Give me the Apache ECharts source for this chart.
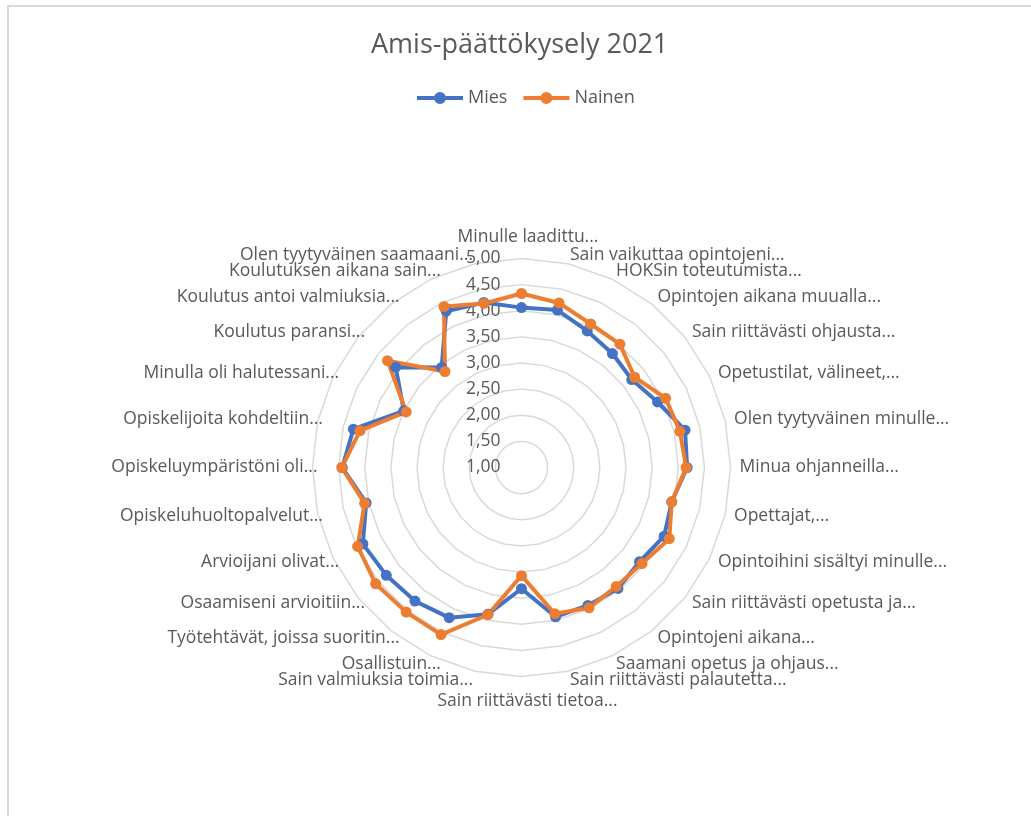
<!DOCTYPE html>
<html><head><meta charset="utf-8">
<script src="https://cdn.jsdelivr.net/npm/echarts@6/dist/echarts.min.js"></script>
<style>html,body{margin:0;padding:0;background:#fff}#c{width:1031px;height:816px}</style>
</head><body><div id="c"></div>
<script>
const titleText = 'Amis-päättökysely 2021';
const seriesNames = ['Mies', 'Nainen'];
const categories = [
  'Minulle laadittu...',
  'Sain vaikuttaa opintojeni...',
  'HOKSin toteutumista...',
  'Opintojen aikana muualla...',
  'Sain riittävästi ohjausta...',
  'Opetustilat, välineet,...',
  'Olen tyytyväinen minulle...',
  'Minua ohjanneilla...',
  'Opettajat,...',
  'Opintoihini sisältyi minulle...',
  'Sain riittävästi opetusta ja...',
  'Opintojeni aikana...',
  'Saamani opetus ja ohjaus...',
  'Sain riittävästi palautetta...',
  'Sain riittävästi tietoa...',
  'Sain valmiuksia toimia...',
  'Osallistuin...',
  'Työtehtävät, joissa suoritin...',
  'Osaamiseni arvioitiin...',
  'Arvioijani olivat...',
  'Opiskeluhuoltopalvelut...',
  'Opiskeluympäristöni oli...',
  'Opiskelijoita kohdeltiin...',
  'Minulla oli halutessani...',
  'Koulutus paransi...',
  'Koulutus antoi valmiuksia...',
  'Koulutuksen aikana sain...',
  'Olen tyytyväinen saamaani...'
];
const miesValues = [4.06, 4.09, 3.90, 3.79, 3.70, 3.89, 4.21, 4.17, 3.95, 4.03, 3.89, 3.96, 3.93, 3.93,
                    3.32, 3.88, 4.19, 4.27, 4.31, 4.37, 4.05, 4.43, 4.30, 3.50, 4.08, 3.45, 4.32, 4.24];
const nainenValues = [4.33, 4.23, 4.05, 4.02, 3.77, 4.06, 4.11, 4.15, 3.95, 4.14, 3.95, 3.91, 3.98, 3.87,
                      3.07, 3.89, 4.55, 4.54, 4.57, 4.48, 4.08, 4.44, 4.17, 3.45, 4.28, 3.35, 4.42, 4.22];
const axisMin = 1, axisMax = 5, axisSplits = 8;

// Excel draws clockwise; ECharts radar runs counter-clockwise -> reorder
const n = categories.length;
const order = [0];
for (let i = n - 1; i >= 1; i--) order.push(i);

const labelFont = 'Open Sans';
const txt = '#595959';
const nameStyle = { color: txt, fontSize: 17.5, fontFamily: labelFont };
// categories whose labels sit on the left side (Excel sets them closer to the ring)
const leftNames = new Set(categories.slice(16, 27));
const topName = categories[0], bottomName = categories[14];

const indicator = order.map((k, j) => {
  const o = { name: categories[k], min: axisMin, max: axisMax };
  if (j === 0) o.axisLabel = { show: true };
  return o;
});
const indicatorPlain = order.map(k => ({ name: categories[k], min: axisMin, max: axisMax }));

const baseRadar = {
  center: [521.5, 467.5], radius: 209, startAngle: 90, splitNumber: axisSplits, shape: 'polygon',
  nameGap: 9,
  axisLine: { show: false }, axisTick: { show: false }, splitArea: { show: false }
};

const chart = echarts.init(document.getElementById('c'), null, { renderer: 'canvas' });
chart.setOption({
  animation: false,
  color: ['#4472C4', '#ED7D31'],
  title: {
    text: titleText, left: 366, top: 27,
    textStyle: { color: txt, fontSize: 27, fontWeight: 'normal', fontFamily: labelFont }
  },
  legend: {
    top: 84, left: 412, itemWidth: 46, itemHeight: 12, itemGap: 16,
    data: seriesNames,
    icon: 'path://M0,4h46v4h-46z M17,6a6,6 0 1,1 12,0a6,6 0 1,1 -12,0z',
    textStyle: { color: txt, fontSize: 18, fontFamily: labelFont }
  },
  graphic: [{
    type: 'rect', silent: true, z: -10,
    shape: { x: 8, y: 6, width: 1200, height: 1000 },
    style: { fill: 'none', stroke: '#d9d9d9', lineWidth: 2 }
  }],
  radar: [
    Object.assign({}, baseRadar, {
      axisName: Object.assign({}, nameStyle, {
        formatter: name => leftNames.has(name) ? '' :
          (name === topName ? '{t|' + name + '}' : (name === bottomName ? '{b|' + name + '}' : name)),
        rich: {
          t: Object.assign({}, nameStyle, { padding: [0, 0, 3, 13] }),
          b: Object.assign({}, nameStyle, { padding: [7, 0, 0, 12] })
        }
      }),
      axisLabel: {
        show: false, color: txt, fontSize: 17.5, fontFamily: labelFont, margin: 21,
        formatter: v => Number(v).toFixed(2).replace('.', ',')
      },
      splitLine: { lineStyle: { color: '#d9d9d9', width: 1.5 } },
      indicator: indicator
    }),
    // label-only layer for the left-hand names, nudged right like Excel places them
    Object.assign({}, baseRadar, {
      center: [535.5, 467.5],
      axisName: Object.assign({}, nameStyle, {
        formatter: name => leftNames.has(name) ? name : ''
      }),
      axisLabel: { show: false },
      splitLine: { show: false },
      indicator: indicatorPlain
    })
  ],
  series: [{
    type: 'radar', radarIndex: 0, symbol: 'circle', symbolSize: 11,
    data: [
      { name: seriesNames[0], value: order.map(k => miesValues[k]), lineStyle: { width: 4 } },
      { name: seriesNames[1], value: order.map(k => nainenValues[k]), lineStyle: { width: 4 } }
    ]
  }]
});
</script></body></html>
